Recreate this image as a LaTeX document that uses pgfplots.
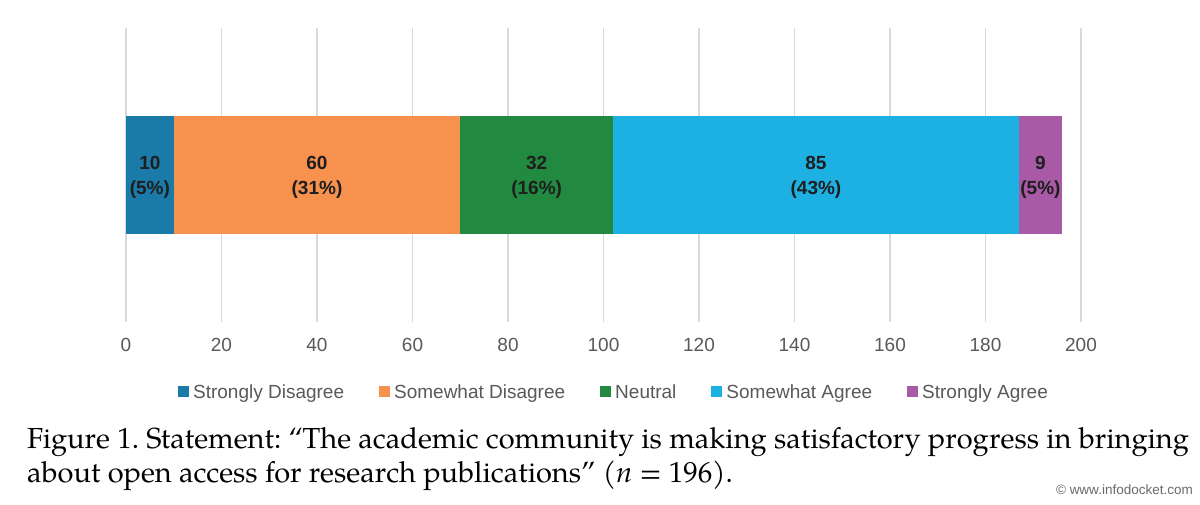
\documentclass[border=0pt]{standalone}
\usepackage{fontspec}
\setmainfont{Liberation Sans}
\newfontfamily\capfont{texgyrepagella}[Extension=.otf, UprightFont=*-regular, ItalicFont=*-italic]
\usepackage{pgfplots}
\pgfplotsset{compat=1.18}

\definecolor{sdcol}{HTML}{1A7AA8}
\definecolor{swdcol}{HTML}{F6914E}
\definecolor{neucol}{HTML}{228A40}
\definecolor{sacol}{HTML}{1DB0E2}
\definecolor{stacol}{HTML}{A95AA6}
\definecolor{labtext}{HTML}{1E1E1E}
\definecolor{ticktext}{HTML}{595959}
\definecolor{gridcol}{HTML}{D9D9D9}
\definecolor{wmgray}{HTML}{6A6A6A}

\pgfplotsset{
  base/.style={
    at={(126pt,183pt)}, anchor=south west,
    width=955pt, height=294pt, scale only axis,
    xmin=0, xmax=200, ymin=-1, ymax=1,
  },
}

\begin{document}
\begin{tikzpicture}
\path[fill=white] (0,0) rectangle (1200pt,505pt);

\begin{axis}[
  base,
  xbar stacked, bar width=118pt,
  xtick={0,20,...,200}, ytick=\empty,
  xmajorgrids, grid style={color=gridcol, line width=1.5pt},
  axis line style={draw=none}, major tick length=0pt,
  /pgf/number format/assume math mode=true,
  xticklabel style={font=\fontsize{19}{23}\selectfont, text=ticktext, yshift=-13pt},
  legend columns=-1,
  legend image code/.code={\fill[#1] (0pt,-5.5pt) rectangle (11pt,5.5pt);},
  legend style={
    at={(axis description cs:0.511,-0.238)}, anchor=center,
    draw=none, fill=none, inner sep=0pt,
    font=\fontsize{19}{23}\selectfont, text=ticktext,
    nodes={inner sep=2pt},
    /tikz/every odd column/.append style={column sep=2pt},
    /tikz/every even column/.append style={column sep=33pt},
  },
]
\addplot[fill=sdcol, draw=none] coordinates {(10,0)};
\addplot[fill=swdcol, draw=none] coordinates {(60,0)};
\addplot[fill=neucol, draw=none] coordinates {(32,0)};
\addplot[fill=sacol, draw=none] coordinates {(85,0)};
\addplot[fill=stacol, draw=none] coordinates {(9,0)};
\legend{Strongly Disagree, Somewhat Disagree, Neutral, Somewhat Agree, Strongly Agree}
\end{axis}

% segment labels, placed at the middle of each segment
\begin{axis}[base, hide axis, clip=false]
\addplot[draw=none, mark=none, nodes near coords, point meta=explicit symbolic,
  every node near coord/.append style={anchor=center, align=center, yshift=-2pt,
    font=\fontsize{19}{25}\selectfont\bfseries, text=labtext}]
  coordinates {(5,0)[10\\(5\%)] (40,0)[60\\(31\%)] (86,0)[32\\(16\%)]
               (144.5,0)[85\\(43\%)] (191.5,0)[9\\(5\%)]};
\end{axis}

\node[anchor=base west, inner sep=0pt, font=\capfont\fontsize{29}{34}\selectfont\frenchspacing]
  at (27pt,56pt) {Figure 1. Statement: “The academic community is making satisfactory progress in bringing};
\node[anchor=base west, inner sep=0pt, font=\capfont\fontsize{29}{34}\selectfont\frenchspacing]
  at (27pt,22pt) {about open access for research publications” (\textit{n} = 196).};
\node[anchor=base east, inner sep=0pt, font=\fontsize{13.5}{16}\selectfont, text=wmgray]
  at (1193pt,10pt) {© www.infodocket.com};
\end{tikzpicture}
\end{document}
